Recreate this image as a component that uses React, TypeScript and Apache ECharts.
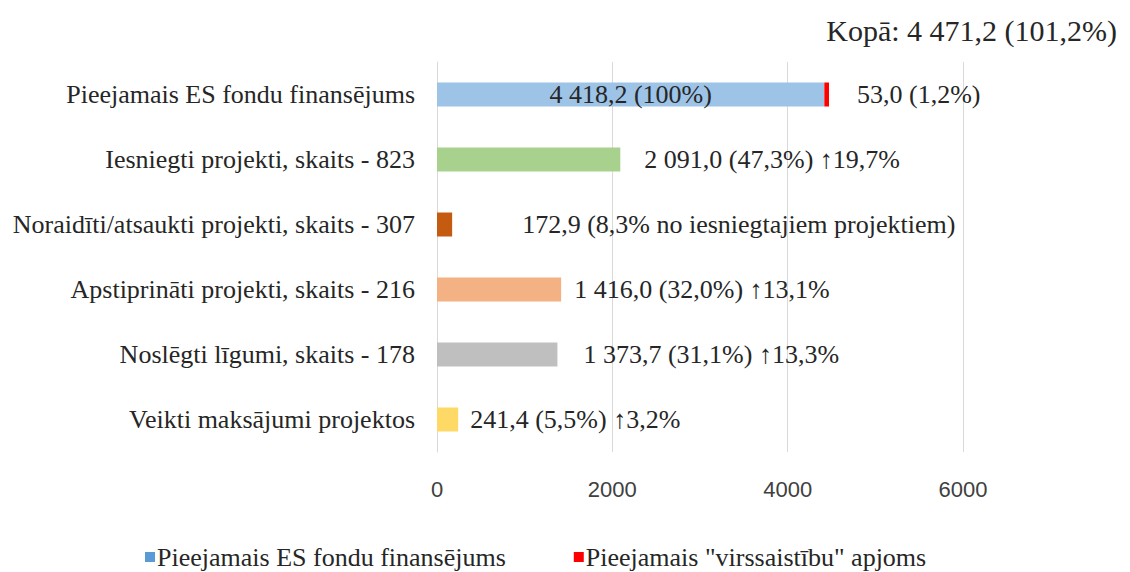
import React, { useEffect, useRef } from "react";
import * as echarts from "echarts";

const categories = [
  "Pieejamais ES fondu finansējums",
  "Iesniegti projekti, skaits - 823",
  "Noraidīti/atsaukti projekti, skaits - 307",
  "Apstiprināti projekti, skaits - 216",
  "Noslēgti līgumi, skaits - 178",
  "Veikti maksājumi projektos",
];
const mainValues = [4418.2, 2091.0, 172.9, 1416.0, 1373.7, 241.4];
const extraValues = [53.0, null, null, null, null, null];
const mainLabels = [
  "4 418,2 (100%)",
  "2 091,0 (47,3%) ↑19,7%",
  "172,9 (8,3% no iesniegtajiem projektiem)",
  "1 416,0 (32,0%) ↑13,1%",
  "1 373,7 (31,1%) ↑13,3%",
  "241,4 (5,5%) ↑3,2%",
];
const extraLabels = ["53,0 (1,2%)"];
const seriesNames = ["Pieejamais ES fondu finansējums", 'Pieejamais "virssaistību" apjoms'];
const titleText = "Kopā: 4 471,2 (101,2%)";
const xTicks = [0, 2000, 4000, 6000];

const SERIF = "'Liberation Serif', 'Times New Roman', serif";
const SANS = "'Liberation Sans Narrow', 'Liberation Sans', Arial, sans-serif";
const TEXT = "#262626";

export default function App() {
  const ref = useRef<HTMLDivElement>(null);
  useEffect(() => {
    if (!ref.current) return;
    const chart = echarts.init(ref.current, undefined, { renderer: "svg" });
    const barColors = ["#9DC3E6", "#A9D18E", "#C55A11", "#F4B183", "#BFBFBF", "#FFD966"];
    const labelGaps = [0, 24, 70, 13, 26, 12];
    chart.setOption({
      animation: false,
      title: {
        text: titleText,
        right: 8,
        top: 10,
        textStyle: { fontFamily: SERIF, fontSize: 30, fontWeight: "normal", color: TEXT },
      },
      legend: {
        left: 140,
        top: 539,
        itemWidth: 10,
        itemHeight: 10,
        itemGap: 68,
        icon: "rect",
        textStyle: { fontFamily: SERIF, fontSize: 26, color: TEXT, padding: [0, 0, 0, -3] },
        data: [
          { name: seriesNames[0], itemStyle: { color: "#5B9BD5" } },
          { name: seriesNames[1], itemStyle: { color: "#FF0000" } },
        ],
      },
      grid: { left: 437, right: 167, top: 62, height: 390, containLabel: false },
      xAxis: {
        type: "value",
        min: xTicks[0],
        max: xTicks[xTicks.length - 1],
        interval: xTicks[1] - xTicks[0],
        axisLine: { show: false },
        axisTick: { show: false },
        splitLine: { show: true, lineStyle: { color: "#D9D9D9", width: 1 } },
        axisLabel: {
          fontFamily: SANS,
          fontSize: 22,
          color: "#404040",
          margin: 26,
          formatter: (v: number) => String(v),
        },
      },
      yAxis: {
        type: "category",
        inverse: true,
        data: categories,
        axisLine: { show: true, lineStyle: { color: "#D9D9D9" } },
        axisTick: { show: false },
        axisLabel: { fontFamily: SERIF, fontSize: 26, color: TEXT, margin: 22 },
      },
      series: [
        {
          name: seriesNames[0],
          type: "bar",
          stack: "total",
          barWidth: 24,
          itemStyle: { color: "#9DC3E6" },
          data: mainValues.map((v, i) => ({
            value: v,
            itemStyle: { color: barColors[i] },
            label: {
              show: true,
              position: i === 0 ? "inside" : "right",
              distance: labelGaps[i],
              formatter: mainLabels[i],
              fontFamily: SERIF,
              fontSize: 26,
              color: TEXT,
            },
          })),
        },
        {
          name: seriesNames[1],
          type: "bar",
          stack: "total",
          barWidth: 24,
          itemStyle: { color: "#FF0000" },
          data: extraValues.map((v, i) =>
            v == null
              ? null
              : {
                  value: v,
                  label: {
                    show: true,
                    position: "right",
                    distance: 28,
                    formatter: extraLabels[i],
                    fontFamily: SERIF,
                    fontSize: 26,
                    color: TEXT,
                  },
                }
          ),
        },
      ],
    });
    return () => chart.dispose();
  }, []);
  return (
    <div
      ref={ref}
      style={{ position: "fixed", left: 0, top: 0, width: 1130, height: 572, background: "#fff" }}
    />
  );
}
